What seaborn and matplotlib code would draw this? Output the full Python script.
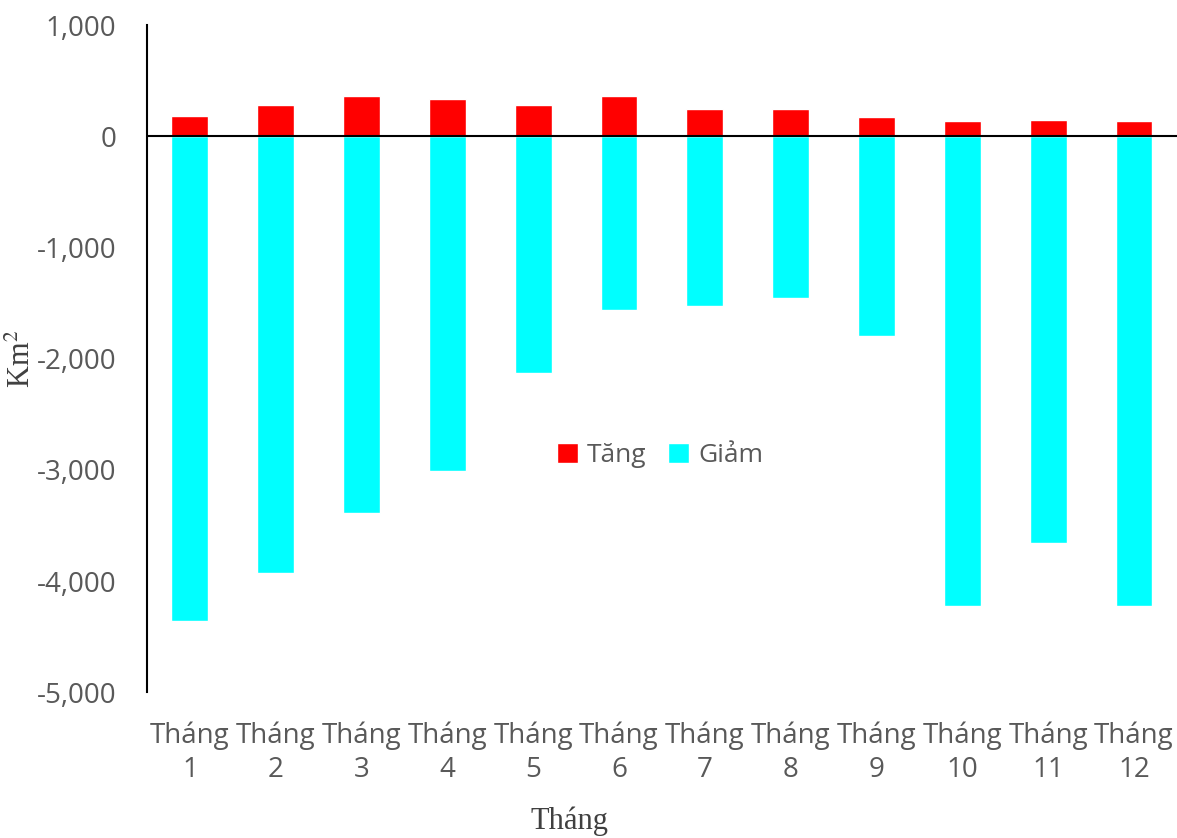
import numpy as np
import pandas as pd
import matplotlib
matplotlib.use("Agg")
import matplotlib.pyplot as plt
import seaborn as sns

#%% Datos
thang = ["Tháng\n1", "Tháng\n2", "Tháng\n3", "Tháng\n4", "Tháng\n5", "Tháng\n6",
         "Tháng\n7", "Tháng\n8", "Tháng\n9", "Tháng\n10", "Tháng\n11", "Tháng\n12"]
tang = [185, 285, 365, 335, 285, 365, 250, 250, 170, 140, 150, 140]
giam = [-4360, -3930, -3390, -3010, -2130, -1560, -1525, -1450, -1800, -4225, -3655, -4225]

df = pd.DataFrame({"thang": thang, "tang": tang, "giam": giam})

#%% Grafico
sns.set_theme(style="white")
plt.rcParams["font.family"] = ["Open Sans", "DejaVu Sans"]
plt.rcParams["mathtext.fontset"] = "stix"
plt.rcParams["axes.unicode_minus"] = False

fig = plt.figure(figsize=(11.77, 8.38), dpi=100)
ax = fig.add_axes([0.1249, 0.174, 0.875, 0.796])

sns.barplot(data=df, x="thang", y="giam", color="#00FFFF", saturation=1,
            width=0.43, ax=ax, label="Giảm")
sns.barplot(data=df, x="thang", y="tang", color="#FF0000", saturation=1,
            width=0.43, ax=ax, label="Tăng")

ax.axhline(0, color="black", lw=1.5, zorder=5)
ax.set_ylim(-5000, 1000)
ax.set_xlim(-0.5, 11.5)
ax.set_yticks(range(-5000, 1001, 1000))
ax.yaxis.set_major_formatter(matplotlib.ticker.StrMethodFormatter("{x:,.0f}"))

for s in ["top", "right", "bottom"]:
    ax.spines[s].set_visible(False)
ax.spines["left"].set_color("black")
ax.spines["left"].set_linewidth(1.5)

ax.tick_params(axis="both", length=0, labelsize=20, labelcolor="#595959")
ax.tick_params(axis="y", pad=22)
ax.tick_params(axis="x", pad=21)
for t in ax.get_xticklabels():
    t.set_linespacing(1.3)

ax.set_xlabel("Tháng", fontsize=22, family="Liberation Serif", color="#404040")
ax.xaxis.set_label_coords(0.41, -0.172)
ax.set_ylabel("Km$^2$", fontsize=22, family="Liberation Serif", color="#404040")
ax.yaxis.set_label_coords(-0.107, 0.5)

handles, labels = ax.get_legend_handles_labels()
order = [labels.index("Tăng"), labels.index("Giảm")]
ax.legend([handles[i] for i in order], [labels[i] for i in order],
          loc="center", bbox_to_anchor=(0.498, 0.355), ncol=2, frameon=False,
          fontsize=19, handlelength=0.8, handleheight=0.8, columnspacing=0.8,
          handletextpad=0.35, labelcolor="#595959")

fig.savefig("out.png", dpi=100)
